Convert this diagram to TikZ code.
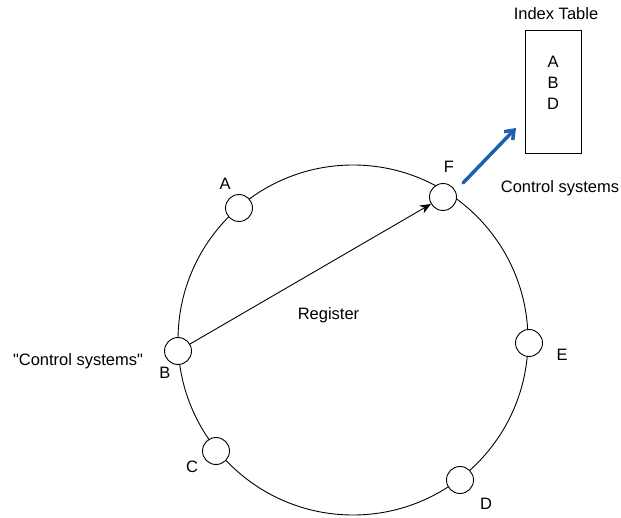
\documentclass[tikz,border=0pt]{standalone}
\usepackage{fontspec}
\setmainfont{Liberation Sans}[Ligatures=TeXOff]
\usetikzlibrary{arrows.meta}
\definecolor{arrowblue}{RGB}{31,95,176}
\begin{document}
\begin{tikzpicture}[x=1pt,y=-1pt,
  every node/.style={font=\fontsize{16.5}{20}\selectfont},
  peer/.style={circle,draw,fill=white,line width=0.9pt,minimum size=27pt,inner sep=0pt},
  lbl/.style={inner sep=0pt}]
\useasboundingbox (0,0) rectangle (621,518);
\node[circle,draw,line width=0.9pt,minimum size=350pt,inner sep=0pt] (ring) at (353,340) {};
\node[peer] (A) at (239,208) {};
\node[peer] (F) at (443,197) {};
\node[peer] (B) at (178,351) {};
\node[peer] (C) at (216,451) {};
\node[peer] (D) at (460,480) {};
\node[peer] (E) at (529,343) {};
\node[lbl] (lA) at (225,184) {A};
\node[lbl] (lF) at (449,167) {F};
\node[lbl] (lB) at (165,373) {B};
\node[lbl] (lC) at (192,467) {C};
\node[lbl] (lD) at (486,504) {D};
\node[lbl] (lE) at (562,355) {E};
\node[lbl] (q) at (78,361) {"Control systems"};
\node[lbl] (reg) at (328.5,315) {Register};
\node[lbl] (cs) at (560,188) {Control systems};
\node[lbl] (it) at (556,14) {Index Table};
\node[draw,line width=0.9pt,minimum width=56pt,minimum height=123pt,inner sep=0pt] (tab) at (553,91.5) {};
\node[lbl,align=center,font=\fontsize{16.5}{21}\selectfont] (tabtxt) at (553,83) {A\\B\\D};
\draw[line width=0.9pt,-{Stealth[length=11pt,width=9pt]}] (B) -- (F);
\coordinate (bs) at (463,183);
\coordinate (be) at (516,128);
\draw[arrowblue,line width=3.5pt,line cap=round,-{Straight Barb[length=8pt,width=12pt]}] (bs) -- (be);
\end{tikzpicture}
\end{document}
